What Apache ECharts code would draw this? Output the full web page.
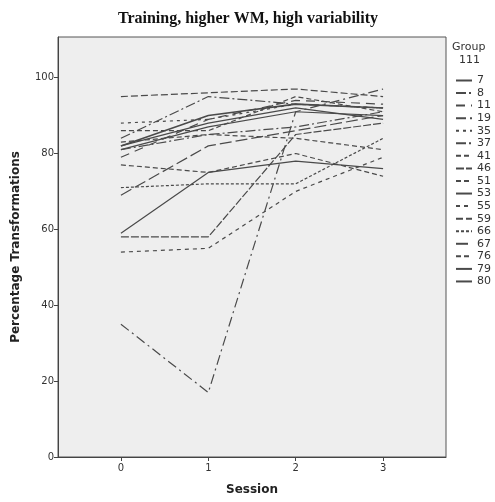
<!DOCTYPE html>
<html>
<head>
<meta charset="utf-8">
<script src="https://cdn.jsdelivr.net/npm/echarts@6/dist/echarts.min.js"></script>
<style>
  html, body { margin: 0; padding: 0; background: #fff; }
  #main { width: 495px; height: 502px; }
</style>
</head>
<body>
<div id="main"></div>
<script>
// sessions on the x axis
var sessions = [0, 1, 2, 3];
var groups = ['7', '8', '11', '19', '35', '37', '41', '46', '51', '53', '55', '59', '66', '67', '76', '79', '80'];

// percentage transformations per group, one value per session
var g7  = [82, 88, 92, 89];
var g8  = [84, 95, 93, 92];
var g11 = [79, 89, 94, 93];
var g19 = [35, 17, 91, 97];
var g35 = [88, 89, 93, 92];
var g37 = [81, 85, 87, 91];
var g41 = [77, 75, 80, 74];
var g46 = [58, 58, 85, 88];
var g51 = [86, 86, 95, 91];
var g53 = [59, 75, 78, 76];
var g55 = [54, 55, 70, 79];
var g59 = [95, 96, 97, 95];
var g66 = [71, 72, 72, 84];
var g67 = [69, 82, 86, 90];
var g76 = [83, 85, 84, 81];
var g79 = [81, 87, 91, 90];
var g80 = [82, 90, 93, 92];

var yTicks = [0, 20, 40, 60, 80, 100];

var values = [g7, g8, g11, g19, g35, g37, g41, g46, g51, g53, g55, g59, g66, g67, g76, g79, g80];
// dash pattern for each group
var dashes = ['solid', [10,3,2,3], [9,6], [10,4,2,4], [3,4], [10,3,2,3], [5,3], [8,2],
              [5,3], 'solid', [4,4], [7,3], [3,2], [12,4], [5,3], 'solid', 'solid'];

var chart = echarts.init(document.getElementById('main'));

var series = groups.map(function (g, i) {
  return {
    name: g,
    type: 'line',
    symbol: 'none',
    data: sessions.map(function (s, j) { return [s, values[i][j]]; }),
    lineStyle: { color: '#4a4a4a', width: (g === '80' ? 1.6 : 1.2), type: dashes[i] },
    itemStyle: { color: '#4a4a4a' }
  };
});

chart.setOption({
  animation: false,
  backgroundColor: '#ffffff',
  title: {
    text: 'Training, higher WM, high variability',
    left: 243, top: 6, textAlign: 'center',
    textStyle: { fontFamily: 'Liberation Serif', fontWeight: 'bold', fontSize: 16, color: '#111' }
  },
  grid: {
    left: 58, right: 49, top: 37, bottom: 45,
    show: true, backgroundColor: '#eeeeee', borderColor: '#555', borderWidth: 1
  },
  legend: {
    orient: 'vertical',
    left: 450, top: 70,
    itemWidth: 16, itemHeight: 10, itemGap: 1.56,
    itemStyle: { color: 'transparent', borderWidth: 0, opacity: 0 },
    textStyle: { fontFamily: 'DejaVu Sans', fontSize: 11, color: '#333' },
    data: groups
  },
  graphic: [
    { type: 'text', left: 452, top: 42, style: { text: 'Group', font: '11px "DejaVu Sans"', fill: '#333' } },
    { type: 'text', left: 459, top: 55, style: { text: '111', font: '11px "DejaVu Sans"', fill: '#333' } }
  ],
  xAxis: {
    type: 'value', min: -0.72, max: 3.72,
    name: 'Session', nameLocation: 'middle', nameGap: 27,
    nameTextStyle: { fontFamily: 'DejaVu Sans', fontWeight: 'bold', fontSize: 12, color: '#222' },
    axisLine: { show: true, onZero: false, lineStyle: { color: '#444', width: 1 } },
    axisTick: { show: true, customValues: sessions, length: 4, lineStyle: { color: '#444' } },
    axisLabel: { customValues: sessions, fontFamily: 'DejaVu Sans', fontSize: 10, color: '#333', margin: 6 },
    splitLine: { show: false }
  },
  yAxis: {
    type: 'value', min: 0, max: 110.7,
    name: 'Percentage Transformations', nameLocation: 'middle', nameGap: 36,
    nameTextStyle: { fontFamily: 'DejaVu Sans', fontWeight: 'bold', fontSize: 12, color: '#222' },
    axisLine: { show: true, onZero: false, lineStyle: { color: '#444', width: 1 } },
    axisTick: { show: true, customValues: yTicks, length: 4, lineStyle: { color: '#444' } },
    axisLabel: { customValues: yTicks, fontFamily: 'DejaVu Sans', fontSize: 10, color: '#333', margin: 4 },
    splitLine: { show: false }
  },
  series: series
});
</script>
</body>
</html>
